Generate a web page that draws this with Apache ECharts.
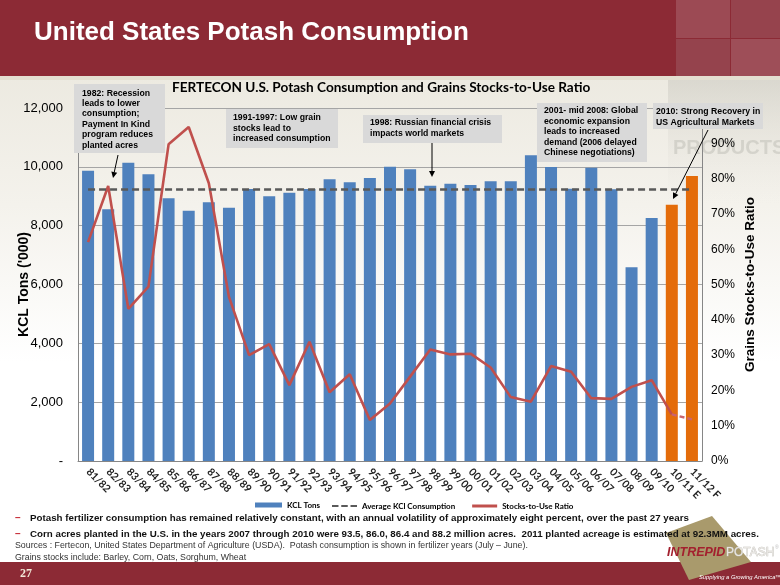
<!DOCTYPE html>
<html><head><meta charset="utf-8">
<script src="https://cdn.jsdelivr.net/npm/echarts@6/dist/echarts.min.js"></script>
<style>html,body{margin:0;padding:0;width:780px;height:585px;overflow:hidden;background:#fff}#c{width:780px;height:585px}</style>
</head><body><div id="c"></div>
<script>
// ---------------- data ----------------
const categories = ['81/82','82/83','83/84','84/85','85/86','86/87','87/88','88/89','89/90','90/91','91/92','92/93','93/94','94/95','95/96','96/97','97/98','98/99','99/00','00/01','01/02','02/03','03/04','04/05','05/06','06/07','07/08','08/09','09/10','10/11 E','11/12 F'];
const kclTons = [9870,8556,10141,9745,8929,8510,8794,8612,9246,8997,9121,9246,9575,9473,9620,10005,9915,9359,9427,9382,9507,9507,10391,9994,9257,9971,9235,6584,8260,8714,9688];
const stocksToUse = [62.0,77.9,43.1,49.4,89.7,94.6,78.7,46.5,30.0,33.1,21.5,33.8,19.5,24.6,11.6,16.3,23.9,31.6,30.2,30.4,26.5,18.1,16.8,26.9,25.3,17.8,17.6,21.0,22.9,13.2,11.8];
const averageKcl = 9235;
const estimateCategories = ['10/11 E','11/12 F'];
const forecastStartCategory = '10/11 E';
const leftAxisMax = 12000, leftAxisStep = 2000;
const rightAxisMax = 100, rightAxisStep = 10;

// ---------------- styling ----------------
const BLUE = '#4F81BD', ORANGE = '#E46C0A', RED = '#C0504D', GREY_DASH = '#595959';
const ARIAL = '"Liberation Sans", Arial, sans-serif';
const CAL = 'Lato, "Noto Sans", sans-serif';
const SLIDE_RED = '#8C2A35';

const fIdx = categories.indexOf(forecastStartCategory);
const barData = kclTons.map((v, i) => estimateCategories.includes(categories[i]) ? {value: v, itemStyle: {color: ORANGE}} : v);
const ratioActual = stocksToUse.map((v, i) => i <= fIdx ? v : null);
const ratioForecast = stocksToUse.map((v, i) => i >= fIdx ? v : null);

function box(x, y, w, h, tx, ty, lines, lh) {
  return [
    {type: 'rect', shape: {x, y, width: w, height: h}, style: {fill: '#D9D9D9'}, z: 90},
    {type: 'text', x: tx, y: ty, style: {text: lines.join('\n'), font: 'bold 8.7px ' + ARIAL, fill: '#000', lineHeight: lh, verticalAlign: 'top', align: 'left'}, z: 91}
  ];
}
function arrow(x1, y1, x2, y2) {
  const a = Math.atan2(y2 - y1, x2 - x1), L = 6, W = 3;
  const bx = x2 - L * Math.cos(a), by = y2 - L * Math.sin(a);
  const px = -Math.sin(a) * W, py = Math.cos(a) * W;
  return [
    {type: 'line', shape: {x1, y1, x2: bx, y2: by}, style: {stroke: '#000', lineWidth: 1}, z: 95},
    {type: 'polygon', shape: {points: [[x2, y2], [bx + px, by + py], [bx - px, by - py]]}, style: {fill: '#000'}, z: 95}
  ];
}
function txt(x, y, s, font, fill, extra) {
  return Object.assign({type: 'text', x, y, style: Object.assign({text: s, font, fill, verticalAlign: 'middle', align: 'left'}, extra || {}), z: 80});
}

const graphics = [
  // page background
  {type: 'rect', shape: {x: 0, y: 0, width: 780, height: 585}, style: {fill: {type: 'linear', x: 0, y: 0, x2: 0, y2: 1, colorStops: [{offset: 0, color: '#E8E5DA'}, {offset: 0.35, color: '#F4F2EC'}, {offset: 0.62, color: '#FFFFFF'}, {offset: 1, color: '#FFFFFF'}]}}, z: -100},
  // faded watermark top-right
  {type: 'rect', shape: {x: 668, y: 80, width: 112, height: 125}, style: {fill: {type: 'linear', x: 0, y: 0, x2: 0, y2: 1, colorStops: [{offset: 0, color: 'rgba(200,198,190,0.5)'}, {offset: 1, color: 'rgba(230,228,222,0)'}]}}, z: -90},
  {type: 'text', x: 673, y: 148, style: {text: 'PRODUCTS', font: 'bold 20px ' + ARIAL, fill: 'rgba(170,168,160,0.35)', verticalAlign: 'middle'}, z: -89},
  // title bar
  {type: 'rect', shape: {x: 0, y: 0, width: 780, height: 76}, style: {fill: SLIDE_RED}, z: -50},
  {type: 'rect', shape: {x: 676, y: 0, width: 54, height: 38}, style: {fill: '#9C4A54'}, z: -49},
  {type: 'rect', shape: {x: 731, y: 0, width: 49, height: 38}, style: {fill: '#96434D'}, z: -49},
  {type: 'rect', shape: {x: 676, y: 39, width: 54, height: 37}, style: {fill: '#95434D'}, z: -49},
  {type: 'rect', shape: {x: 731, y: 39, width: 49, height: 37}, style: {fill: '#9E4E58'}, z: -49},
  {type: 'rect', shape: {x: 0, y: 76, width: 780, height: 4}, style: {fill: '#E4DFD1'}, z: -49},
  {type: 'text', x: 34, y: 33, style: {text: 'United States Potash Consumption', font: 'bold 26px ' + ARIAL, fill: '#FFFFFF', verticalAlign: 'middle', shadowColor: 'rgba(0,0,0,0.85)', shadowOffsetX: 2, shadowOffsetY: 2, shadowBlur: 1}, z: 80},
  // footer
  {type: 'rect', shape: {x: 0, y: 562, width: 780, height: 23}, style: {fill: SLIDE_RED}, z: 70},
  txt(20, 574, '27', 'bold 12px "Liberation Serif", serif', '#F2E8D8'),
  // logo
  {type: 'polygon', shape: {points: [[712, 516], [751, 562], [689, 580], [666, 533]]}, style: {fill: '#A99A6C'}, z: 75},
  txt(667, 553, 'INTREPID', 'italic bold 12.5px ' + ARIAL, '#A3202E', {z: 85}),
  txt(726, 553, 'POTASH', '12px ' + ARIAL, '#E8E6E2', {stroke: '#BDBBB5', lineWidth: 0.6}),
  txt(775, 548, '®', '5px ' + ARIAL, '#BBB'),
  txt(699, 577, 'Supplying a Growing America™', 'italic 5.8px ' + ARIAL, '#FFFFFF'),
  // bullets & sources
  txt(15, 518, '–', 'bold 10px ' + ARIAL, '#C8303A'),
  txt(30, 518, 'Potash fertilizer consumption has remained relatively constant, with an annual volatility of approximately eight percent, over the past 27 years', 'bold 9.75px ' + ARIAL, '#111'),
  txt(15, 534, '–', 'bold 10px ' + ARIAL, '#C8303A'),
  txt(30, 534, 'Corn acres planted in the U.S. in the years 2007 through 2010 were 93.5, 86.0, 86.4 and 88.2 million acres.  2011 planted acreage is estimated at 92.3MM acres.', 'bold 9.75px ' + ARIAL, '#111'),
  txt(15, 545.5, 'Sources : Fertecon, United States Department of Agriculture (USDA).  Potash consumption is shown in fertilizer years (July – June).', '8.8px ' + ARIAL, '#333'),
  txt(15, 558, 'Grains stocks include: Barley, Corn, Oats, Sorghum, Wheat', '8.8px ' + ARIAL, '#333'),
  // annotation boxes
  ...box(74, 84, 91, 69, 82, 88, ['1982: Recession', 'leads to lower', 'consumption;', 'Payment In Kind', 'program reduces', 'planted acres'], 10.4),
  ...box(226, 109, 112, 39, 233, 112.5, ['1991-1997: Low grain', 'stocks lead to', 'increased consumption'], 10.6),
  ...box(363, 115, 139, 28, 370, 117.5, ['1998: Russian financial crisis', 'impacts world markets'], 11),
  ...box(537, 103, 110, 59, 544, 105.8, ['2001- mid 2008: Global', 'economic expansion', 'leads to increased', 'demand (2006 delayed', 'Chinese negotiations)'], 10.4),
  ...box(653, 103, 110, 26, 656, 106.5, ['2010: Strong Recovery in', 'US Agricultural Markets'], 10.6),
  ...arrow(118, 155, 113, 178),
  ...arrow(432, 143, 432, 177),
  ...arrow(708, 130, 673, 199)
];

const chart = echarts.init(document.getElementById('c'), null, {renderer: 'canvas', width: 780, height: 585});
chart.setOption({
  backgroundColor: 'transparent',
  animation: false,
  title: {text: 'FERTECON U.S. Potash Consumption and Grains Stocks-to-Use Ratio', left: 172, top: 81, padding: 0, textStyle: {fontFamily: CAL, fontWeight: 'bold', fontSize: 13.6, color: '#000'}},
  grid: {left: 78, right: 78, top: 108, bottom: 124, containLabel: false, outerBoundsMode: 'none'},
  legend: [
    {data: ['KCL Tons'], left: 255, top: 501, padding: 0, itemWidth: 27, itemHeight: 5, icon: 'rect', textStyle: {fontFamily: CAL, fontWeight: 'bold', fontSize: 8, color: '#000'}},
    {data: [{name: 'Average KCl Consumption', icon: 'path://M0,0H7V2H0Z M10,0H17V2H10Z M20,0H27V2H20Z'}, {name: 'Stocks-to-Use Ratio', icon: 'rect'}], left: 332, top: 502, padding: 0, itemWidth: 25, itemHeight: 3, itemGap: 17, textStyle: {fontFamily: CAL, fontWeight: 'bold', fontSize: 8, color: '#000'}}
  ],
  xAxis: {
    type: 'category', data: categories, boundaryGap: true,
    axisLine: {lineStyle: {color: '#868686', width: 1}},
    axisTick: {show: false},
    axisLabel: {rotate: -45, margin: 9, interval: 0, fontFamily: CAL, fontWeight: 'bold', fontSize: 10.5, color: '#222'}
  },
  yAxis: [
    {type: 'value', min: 0, max: leftAxisMax, interval: leftAxisStep,
     name: "KCL Tons ('000)", nameLocation: 'middle', nameRotate: 90, nameGap: 47, nameMoveOverlap: false,
     nameTextStyle: {fontFamily: ARIAL, fontWeight: 'bold', fontSize: 14, color: '#000'},
     axisLine: {show: true, lineStyle: {color: '#868686'}}, axisTick: {show: false},
     axisLabel: {margin: 15, fontFamily: ARIAL, fontSize: 13, color: '#000', formatter: v => v === 0 ? '-' : v.toLocaleString('en-US')},
     splitLine: {show: true, lineStyle: {color: '#A5A5A5', width: 1}}},
    {type: 'value', min: 0, max: rightAxisMax, interval: rightAxisStep,
     name: 'Grains Stocks-to-Use Ratio', nameLocation: 'middle', nameRotate: 90, nameGap: 41, nameMoveOverlap: false,
     nameTextStyle: {fontFamily: ARIAL, fontWeight: 'bold', fontSize: 13.5, color: '#000'},
     axisLine: {show: true, lineStyle: {color: '#868686'}}, axisTick: {show: false},
     axisLabel: {margin: 9, fontFamily: ARIAL, fontSize: 12, color: '#000', formatter: v => v >= rightAxisMax ? '' : v + '%'},
     splitLine: {show: false}}
  ],
  series: [
    {name: 'KCL Tons', type: 'bar', data: barData, barWidth: 12, itemStyle: {color: BLUE}, z: 2},
    {name: 'Average KCl Consumption', type: 'line', data: [], color: GREY_DASH, lineStyle: {color: GREY_DASH, type: [7, 4], width: 2.5},
     markLine: {silent: true, symbol: ['none', 'none'], label: {show: false}, lineStyle: {color: GREY_DASH, type: [7, 4], width: 2.5},
       data: [[{coord: [categories[0], averageKcl]}, {coord: [categories[categories.length - 1], averageKcl]}]]}, z: 3},
    {name: 'Stocks-to-Use Ratio', type: 'line', yAxisIndex: 1, data: ratioActual, color: RED, showSymbol: false, symbol: 'none', lineStyle: {color: RED, width: 2.6}, z: 4},
    {name: 'Stocks-to-Use Forecast', type: 'line', yAxisIndex: 1, data: ratioForecast, color: '#C96470', showSymbol: false, symbol: 'none', lineStyle: {color: '#C96470', width: 2.4, type: [5, 3]}, z: 4}
  ],
  graphic: {elements: graphics}
});
</script>
</body></html>
